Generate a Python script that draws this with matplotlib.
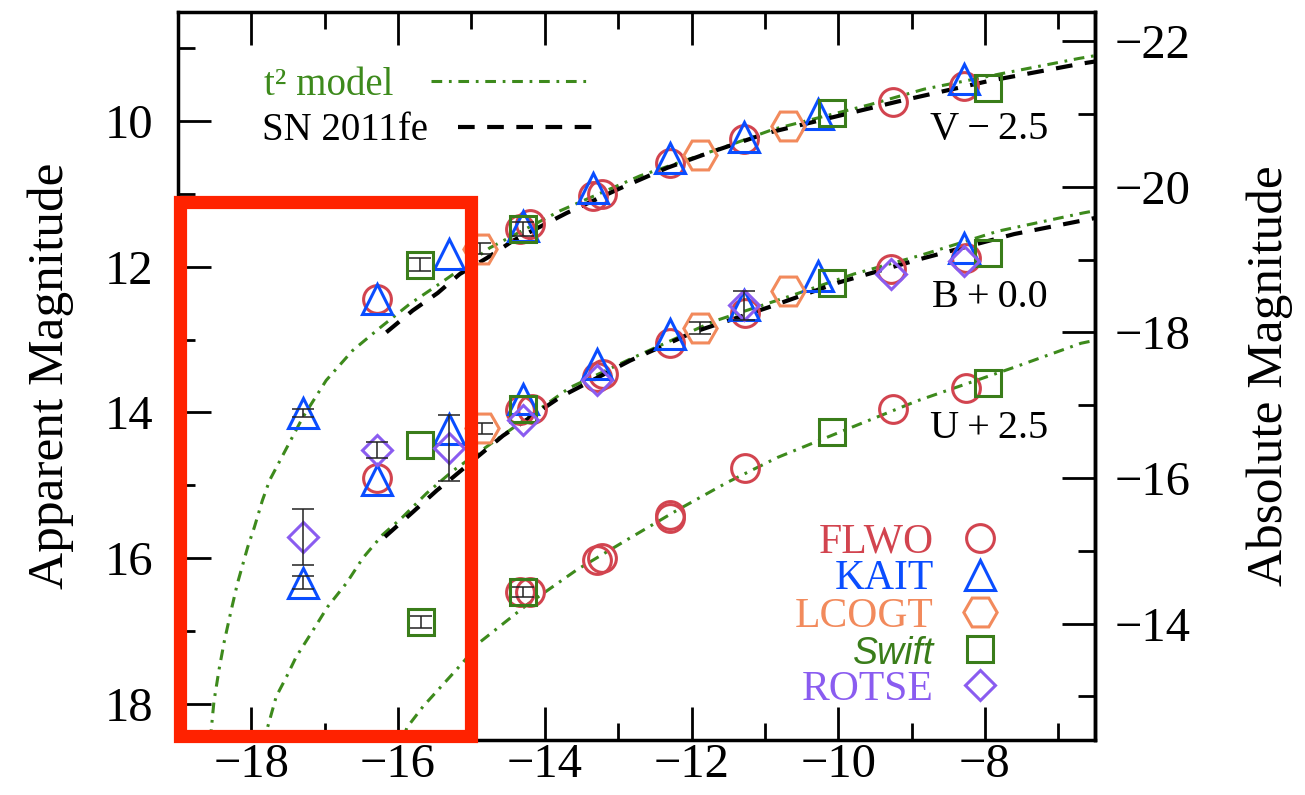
import numpy as np
import matplotlib
matplotlib.use("Agg")
import matplotlib.pyplot as plt
from matplotlib.lines import Line2D
from matplotlib.patches import Rectangle
from matplotlib.ticker import MultipleLocator, FuncFormatter

plt.rcParams['font.family'] = ['Liberation Serif', 'DejaVu Serif']

# --- photometry (days vs. apparent mag, bands already offset) ---
flwo_t = [-16.29, -14.34, -14.20, -13.34, -13.22, -12.29, -11.29, -9.26, -8.29,
          -16.29, -14.34, -14.18, -13.29, -13.20, -12.29, -11.27, -9.28, -8.26,
          -14.34, -14.20, -13.29, -13.22, -12.29, -12.30, -11.27, -9.26, -8.26]
flwo_mag = [12.44, 11.48, 11.41, 11.03, 11.00, 10.58, 10.25, 9.73, 9.52,
            14.90, 13.97, 13.95, 13.52, 13.47, 13.05, 12.64, 12.03, 11.88,
            16.47, 16.47, 16.03, 16.00, 15.41, 15.45, 14.77, 13.95, 13.66]
flwo_err = [0] * 27

kait_t = [-17.30, -16.29, -15.30, -14.30, -13.34, -12.29, -11.29, -10.27, -8.29,
          -17.30, -16.29, -15.30, -14.30, -13.29, -12.29, -11.29, -10.28, -8.29]
kait_mag = [14.01, 12.44, 11.82, 11.44, 10.92, 10.51, 10.22, 9.90, 9.42,
            16.34, 14.93, 14.23, 13.82, 13.34, 12.92, 12.53, 12.12, 11.74]
kait_err = [0.06, 0, 0, 0, 0, 0, 0, 0, 0,
            0.09, 0, 0, 0, 0, 0, 0, 0, 0]

lcogt_t = [-14.89, -11.88, -10.69, -14.86, -11.88, -10.69]
lcogt_mag = [11.75, 10.47, 10.07, 14.22, 12.84, 12.33]
lcogt_err = [0.08, 0, 0, 0.08, 0.08, 0]

swift_t = [-15.70, -14.30, -10.08, -7.96,
           -15.70, -14.30, -10.08, -7.96,
           -15.69, -14.30, -10.08, -7.96]
swift_mag = [11.97, 11.48, 9.89, 9.55,
             14.45, 13.95, 12.22, 11.81,
             16.88, 16.47, 14.27, 13.59]
swift_err = [0.09, 0.10, 0, 0,
             0, 0, 0, 0,
             0.08, 0.07, 0, 0]

rotse_t = [-17.30, -16.29, -15.30, -14.30, -13.29, -11.29, -9.28, -8.29]
rotse_mag = [15.71, 14.52, 14.49, 14.11, 13.56, 12.53, 12.10, 11.92]
rotse_err = [0.38, 0.11, 0.45, 0, 0, 0.20, 0, 0]

# --- model curves ---
v_t2_t = [-18.56, -18.51, -18.44, -18.37, -18.28, -18.19, -18.05, -17.96, -17.85,
          -17.75, -17.30, -16.98, -16.62, -16.25, -15.84, -15.43, -15.16, -14.75,
          -13.79, -12.70, -11.51, -10.88, -9.56, -8.83, -7.74, -6.73, -6.50]
v_t2_mag = [18.50, 17.97, 17.53, 17.15, 16.74, 16.35, 15.85, 15.58, 15.21,
            14.93, 14.07, 13.56, 13.15, 12.84, 12.51, 12.23, 12.04, 11.74,
            11.23, 10.75, 10.34, 10.11, 9.77, 9.56, 9.34, 9.14, 9.10]

v_fe_t = [-16.16, -15.80, -15.46, -15.16, -14.79, -14.43, -13.70, -12.97, -12.33,
          -11.78, -10.96, -10.42, -9.19, -7.96, -6.69, -6.50]
v_fe_mag = [12.90, 12.60, 12.36, 12.10, 11.88, 11.64, 11.26, 10.92, 10.64,
            10.44, 10.16, 10.03, 9.73, 9.45, 9.21, 9.18]

b_t2_t = [-17.84, -17.78, -17.66, -17.52, -17.39, -17.17, -16.96, -16.70, -16.48,
          -16.21, -15.94, -15.61, -15.25, -14.61, -13.66, -12.80, -11.70, -10.65,
          -9.79, -8.87, -7.82, -6.66, -6.50]
b_t2_mag = [18.55, 18.33, 17.90, 17.63, 17.36, 17.01, 16.67, 16.34, 16.00,
            15.68, 15.44, 15.11, 14.80, 14.34, 13.66, 13.25, 12.75, 12.40,
            12.10, 11.84, 11.51, 11.26, 11.23]

b_fe_t = [-16.18, -15.80, -15.47, -15.25, -14.93, -14.57, -13.79, -12.84, -11.98,
          -10.96, -10.01, -8.87, -7.60, -6.55, -6.50]
b_fe_mag = [15.71, 15.37, 15.07, 14.89, 14.62, 14.32, 13.79, 13.29, 12.90,
            12.56, 12.22, 11.89, 11.55, 11.34, 11.33]

u_t2_t = [-15.97, -15.88, -15.66, -15.39, -15.12, -14.89, -14.24, -13.56, -12.88,
          -12.19, -11.51, -10.83, -9.83, -8.92, -7.60, -6.69, -6.50]
u_t2_mag = [18.60, 18.33, 18.04, 17.74, 17.44, 17.16, 16.64, 16.16, 15.75,
            15.34, 14.96, 14.62, 14.21, 13.84, 13.38, 13.05, 13.01]

band_labels = ['V\u2009\u2212\u20092.5', 'B\u2009+\u20090.0', 'U\u2009+\u20092.5']
band_label_t = [-7.14, -7.14, -7.14]
band_label_mag = [10.11, 12.42, 14.22]

dist_mod = 30.9
box_t, box_mag, box_w, box_h = -18.97, 11.11, 3.96, 7.33

green = '#3d8a1c'
instruments = [
    ('FLWO', flwo_t, flwo_mag, flwo_err, 'o', '#d2444f', 20),
    ('KAIT', kait_t, kait_mag, kait_err, '^', '#0a4dff', 21),
    ('LCOGT', lcogt_t, lcogt_mag, lcogt_err, 'H', '#f28a5c', 24),
    ('Swift', swift_t, swift_mag, swift_err, 's', '#3a7d1a', 19),
    ('ROTSE', rotse_t, rotse_mag, rotse_err, 'D', '#8a5cf0', 15),
]


def tick_fmt(v, pos):
    return f'{v:g}'.replace('-', '\u2212')


fig = plt.figure(figsize=(13.05, 7.95), dpi=100)
ax = fig.add_axes([178 / 1305, 55 / 795, 917 / 1305, 728 / 795])

t2_style = dict(color=green, lw=2.2, ls=(0, (3.5, 2.2, 0.9, 2.2)), zorder=2)
fe_style = dict(color='black', lw=3, ls=(0, (4, 3)), zorder=2)
ax.plot(v_t2_t, v_t2_mag, **t2_style)
ax.plot(b_t2_t, b_t2_mag, **t2_style)
ax.plot(u_t2_t, u_t2_mag, **t2_style)
ax.plot(v_fe_t, v_fe_mag, **fe_style)
ax.plot(b_fe_t, b_fe_mag, **fe_style)

handles = []
for name, t, m, e, mk, col, ms in instruments:
    t = np.array(t)
    m = np.array(m)
    e = np.array(e)
    ax.plot(t, m, ls='none', marker=mk, ms=ms, mfc='none', mec=col, mew=2.2, zorder=3)
    sel = e > 0
    if sel.any():
        ax.errorbar(t[sel], m[sel], yerr=e[sel], fmt='none', ecolor='#222222',
                    elinewidth=1.1, capsize=8, capthick=1.1, zorder=4)
    handles.append(Line2D([], [], ls='none', marker=mk, ms=ms, mfc='none', mec=col, mew=2.2))

for lab, t, m in zip(band_labels, band_label_t, band_label_mag):
    ax.text(t, m, lab, ha='right', va='center', fontsize=29)

ax.set_xlim(-19, -6.5)
ax.set_ylim(18.5, 8.5)
ax.xaxis.set_major_locator(MultipleLocator(2))
ax.xaxis.set_minor_locator(MultipleLocator(1))
ax.yaxis.set_major_locator(MultipleLocator(2))
ax.yaxis.set_minor_locator(MultipleLocator(1))
ax.xaxis.set_major_formatter(FuncFormatter(tick_fmt))
ax.yaxis.set_major_formatter(FuncFormatter(tick_fmt))
ax.tick_params(which='both', direction='in', top=True, right=False, width=2, labelsize=35,
               labelfontfamily='Liberation Serif')
ax.tick_params(which='major', length=24)
ax.tick_params(which='minor', length=12)
ax.tick_params(axis='x', pad=2)
ax.tick_params(axis='y', pad=18)
for s in ax.spines.values():
    s.set_linewidth(2.5)
ax.set_ylabel('Apparent Magnitude', fontsize=37, labelpad=22)

sec = ax.secondary_yaxis('right', functions=(lambda m: m - dist_mod, lambda M: M + dist_mod))
sec.yaxis.set_major_locator(MultipleLocator(2))
sec.yaxis.set_minor_locator(MultipleLocator(1))
sec.yaxis.set_major_formatter(FuncFormatter(tick_fmt))
sec.tick_params(which='both', direction='in', width=2, labelsize=35, pad=14,
                labelfontfamily='Liberation Serif')
sec.tick_params(which='major', length=24)
sec.tick_params(which='minor', length=12)
sec.spines['right'].set_linewidth(2.5)
sec.set_ylabel('Absolute Magnitude', fontsize=37, labelpad=40)

# model key: two one-row legends, text left, line right
t2_leg = ax.legend([Line2D([], [], **t2_style)], ['t² model'], loc='center left',
                   bbox_to_anchor=(0.094, 0.899), frameon=False, markerfirst=False,
                   fontsize=28, handlelength=4.0, handletextpad=0.95, borderaxespad=0,
                   borderpad=0)
t2_leg.get_texts()[0].set_color(green)
ax.add_artist(t2_leg)
fe_leg = ax.legend([Line2D([], [], **fe_style)], ['SN 2011fe'], loc='center left',
                   bbox_to_anchor=(0.092, 0.837), frameon=False, markerfirst=False,
                   fontsize=28, handlelength=3.45, handletextpad=0.75, borderaxespad=0,
                   borderpad=0)
ax.add_artist(fe_leg)

inst_leg = ax.legend(handles, [i[0] for i in instruments], loc='lower right',
                     bbox_to_anchor=(0.915, 0.02), frameon=False, markerfirst=False,
                     fontsize=30, handlelength=1.0, handletextpad=0.6,
                     labelspacing=-0.03, borderaxespad=0)
for txt, inst in zip(inst_leg.get_texts(), instruments):
    txt.set_color(inst[5])
    if inst[0] == 'Swift':
        txt.set_family(['Liberation Sans', 'DejaVu Sans'])
        txt.set_fontstyle('italic')
        txt.set_fontsize(27)

ax.add_patch(Rectangle((box_t, box_mag), box_w, box_h, fill=False, ec='#ff2200',
                       lw=9.5, clip_on=False, zorder=10))

fig.savefig('out.png', dpi=100)
